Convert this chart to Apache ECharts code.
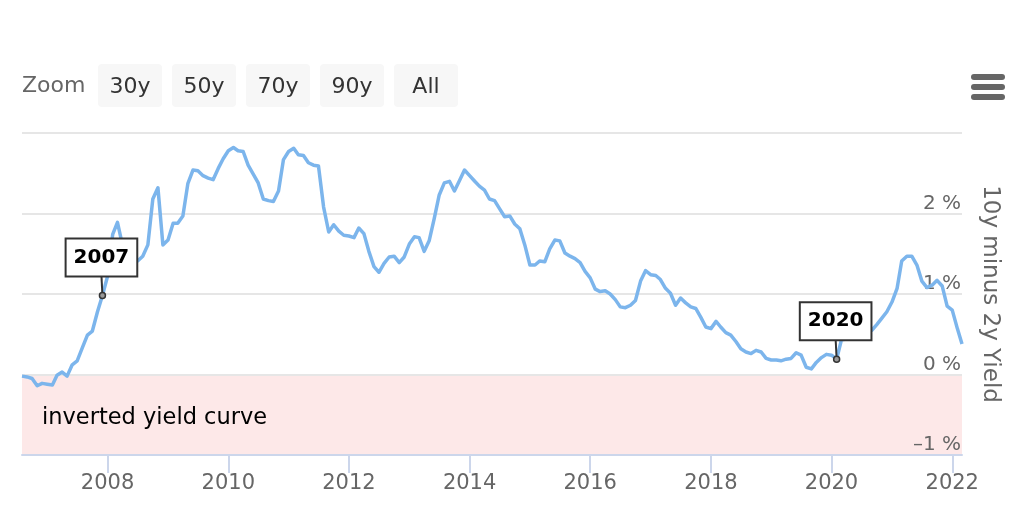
<!DOCTYPE html>
<html>
<head>
<meta charset="utf-8">
<script src="https://cdn.jsdelivr.net/npm/echarts@6/dist/echarts.min.js"></script>
<style>
html,body{margin:0;padding:0;background:#fff;}
#chart{width:1022px;height:518px;}
</style>
</head>
<body>
<div id="chart"></div>
<script>
// ---- data (monthly, 10y minus 2y Treasury spread, %) ----
const startYear = 2006, startMonth = 8; // first point: Aug 2006
const spread = [
  -0.02, -0.03, -0.05, -0.14, -0.11, -0.12, -0.13, -0.01, 0.03, -0.02, 0.12, 0.17,
  0.33, 0.49, 0.54, 0.78, 0.98, 1.22, 1.74, 1.89, 1.60, 1.45, 1.42, 1.41,
  1.47, 1.61, 2.18, 2.32, 1.61, 1.67, 1.88, 1.88, 1.97, 2.37, 2.54, 2.53,
  2.47, 2.44, 2.42, 2.56, 2.68, 2.78, 2.82, 2.78, 2.77, 2.60, 2.49, 2.38,
  2.18, 2.16, 2.15, 2.28, 2.67, 2.77, 2.81, 2.73, 2.72, 2.63, 2.60, 2.59,
  2.08, 1.77, 1.86, 1.78, 1.73, 1.72, 1.70, 1.82, 1.75, 1.53, 1.34, 1.27,
  1.38, 1.46, 1.47, 1.39, 1.46, 1.62, 1.71, 1.70, 1.53, 1.66, 1.94, 2.23,
  2.38, 2.40, 2.28, 2.41, 2.54, 2.47, 2.40, 2.34, 2.29, 2.18, 2.16, 2.06,
  1.96, 1.97, 1.87, 1.81, 1.61, 1.36, 1.36, 1.41, 1.40, 1.56, 1.67, 1.66,
  1.51, 1.47, 1.44, 1.39, 1.28, 1.20, 1.06, 1.03, 1.04, 1.00, 0.93, 0.84,
  0.83, 0.86, 0.92, 1.16, 1.29, 1.24, 1.23, 1.18, 1.07, 1.01, 0.86, 0.95,
  0.89, 0.84, 0.82, 0.71, 0.59, 0.57, 0.66, 0.59, 0.52, 0.49, 0.41, 0.32,
  0.28, 0.26, 0.30, 0.28, 0.20, 0.18, 0.18, 0.17, 0.19, 0.20, 0.27, 0.24,
  0.09, 0.07, 0.15, 0.21, 0.25, 0.24, 0.19, 0.43, 0.44, 0.47, 0.49, 0.51,
  0.53, 0.55, 0.62, 0.70, 0.78, 0.90, 1.07, 1.41, 1.47, 1.47, 1.36, 1.16,
  1.08, 1.11, 1.17, 1.10, 0.85, 0.80, 0.57, 0.38
];
const xTickYears = [2008, 2010, 2012, 2014, 2016, 2018, 2020, 2022];
const yTicks = [-1, 0, 1, 2, 3];
const yLabelTicks = [-1, 0, 1, 2];
const annotations = [
  { year: 2007, month: 12, text: '2007' },
  { year: 2020, month: 2, text: '2020' }
];
const zoomButtons = ['30y', '50y', '70y', '90y', 'All'];
const bandLabel = 'inverted yield curve';
const bandRange = [-1, 0];
const yTitle = '10y minus 2y Yield';

// ---- build ----
const monthTs = (y, m) => Date.UTC(y, m - 1, 1);
const points = spread.map((v, i) => [monthTs(startYear, startMonth + i), v]);
const annData = annotations.map(a => {
  const idx = (a.year - startYear) * 12 + (a.month - startMonth);
  return [points[idx][0], points[idx][1], a.text];
});
const tickTs = xTickYears.map(y => Date.UTC(y, 0, 1));
const FONT = 'DejaVu Sans';

const graphics = [];
graphics.push({ type: 'text', left: 22, top: 75, style: { text: 'Zoom', fontSize: 22, fill: '#666', fontFamily: FONT } });
zoomButtons.forEach((b, i) => {
  const x = 98 + i * 74;
  graphics.push({ type: 'rect', shape: { x: x, y: 64, width: 64, height: 43, r: 4 }, style: { fill: '#f7f7f7' } });
  graphics.push({ type: 'text', x: x + 32, y: 87, style: { text: b, fontSize: 22, fill: '#333', fontFamily: FONT, align: 'center', verticalAlign: 'middle' } });
});
[74, 84, 94].forEach(y => {
  graphics.push({ type: 'rect', shape: { x: 971, y: y, width: 34, height: 6, r: 3 }, style: { fill: '#666' } });
});

const chart = echarts.init(document.getElementById('chart'), null, { renderer: 'canvas' });
chart.setOption({
  animation: false,
  backgroundColor: '#fff',
  textStyle: { fontFamily: FONT },
  grid: { left: 22, right: 60, top: 133, bottom: 63, containLabel: false },
  graphic: graphics,
  xAxis: {
    type: 'value',
    z: 2,
    min: points[0][0],
    max: points[points.length - 1][0],
    axisLine: { show: true, onZero: false, lineStyle: { color: '#ccd6eb', width: 2 } },
    axisTick: { show: true, length: 18, lineStyle: { color: '#ccd6eb', width: 2 }, customValues: tickTs },
    axisLabel: { customValues: tickTs, formatter: v => String(new Date(v).getUTCFullYear()), fontSize: 21, color: '#666', margin: 18, fontFamily: FONT },
    splitLine: { show: false }
  },
  yAxis: {
    type: 'value',
    z: 2,
    position: 'right',
    min: yTicks[0],
    max: yTicks[yTicks.length - 1],
    interval: 1,
    name: yTitle,
    nameLocation: 'middle',
    nameRotate: -90,
    nameGap: 16,
    nameTextStyle: { fontSize: 23, color: '#666', fontFamily: FONT },
    axisLine: { show: false },
    axisTick: { show: false },
    axisLabel: {
      inside: true, margin: 1, customValues: yLabelTicks, hideOverlap: false,
      verticalAlign: 'bottom', fontSize: 20, color: '#666', fontFamily: FONT,
      formatter: v => (v < 0 ? '\u2013' + Math.abs(v) : String(v)) + ' %'
    },
    splitLine: { show: true, lineStyle: { color: '#e6e6e6', width: 2 } }
  },
  series: [
    {
      type: 'line',
      z: 1,
      data: points,
      showSymbol: false,
      symbol: 'none',
      silent: true,
      lineStyle: { opacity: 0 },
      markArea: {
        silent: true,
        itemStyle: { color: '#fde8e8' },
        label: { show: true, position: 'insideLeft', distance: 20, offset: [0, 3], fontSize: 22.5, color: '#000', fontFamily: FONT },
        data: [[{ yAxis: bandRange[0], name: bandLabel }, { yAxis: bandRange[1] }]]
      }
    },
    {
      type: 'line',
      data: points,
      showSymbol: false,
      symbol: 'none',
      silent: true,
      z: 5,
      lineStyle: { color: '#7cb5ec', width: 3.5, join: 'round' }
    },
    {
      type: 'custom',
      data: annData,
      z: 10,
      silent: true,
      renderItem: function (params, api) {
        const p = api.coord([api.value(0), api.value(1)]);
        const text = annData[params.dataIndex][2];
        return {
          type: 'group',
          children: [
            { type: 'line', shape: { x1: p[0], y1: p[1], x2: p[0] - 1, y2: p[1] - 20 }, style: { stroke: '#333', lineWidth: 2 } },
            { type: 'circle', shape: { cx: p[0], cy: p[1], r: 3 }, style: { fill: '#999', stroke: '#333', lineWidth: 1.5 } },
            { type: 'text', x: p[0] - 1, y: p[1] - 20, style: {
                text: text, fontSize: 20, fontWeight: 'bold', fill: '#000', fontFamily: FONT,
                align: 'center', verticalAlign: 'bottom', lineHeight: 22,
                backgroundColor: '#fff', borderColor: '#333', borderWidth: 2, padding: [7, 7, 7, 7]
            } }
          ]
        };
      }
    }
  ]
});
</script>
</body>
</html>
